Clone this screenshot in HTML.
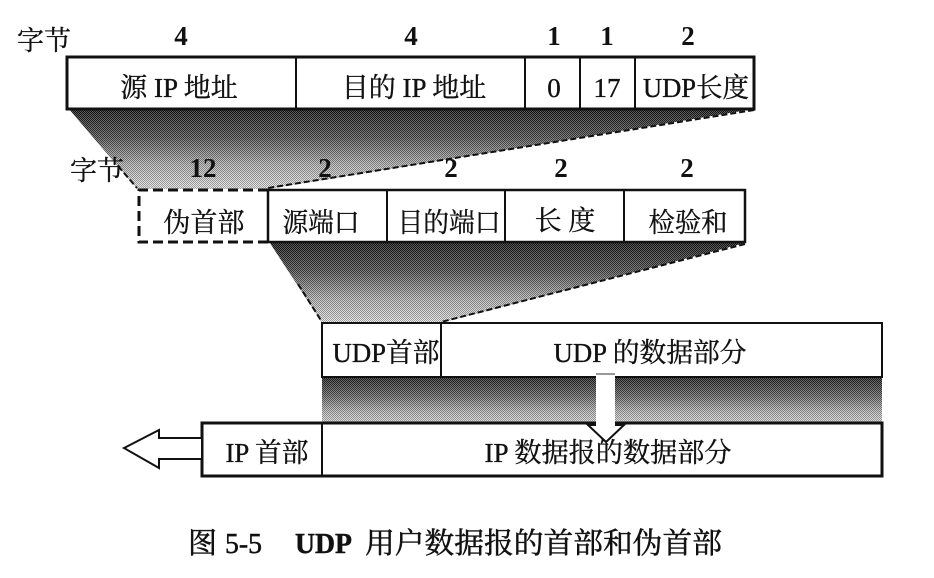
<!DOCTYPE html>
<html lang="zh">
<head>
<meta charset="utf-8">
<style>
html,body{margin:0;padding:0;background:#fff;}
svg{display:block;}
text{font-family:"Liberation Serif","Noto Serif CJK SC",serif;fill:#111;stroke:#111;stroke-width:.35px;}
.l{font-size:27px;text-anchor:middle;}
.n{font-size:27px;text-anchor:middle;font-weight:bold;stroke-width:0;}
.c{font-size:29px;stroke-width:.5px;}
</style>
</head>
<body>
<svg width="934" height="578" viewBox="0 0 934 578" xmlns="http://www.w3.org/2000/svg">
<defs>
<linearGradient id="g1" x1="0" y1="0" x2="0" y2="1">
<stop offset="0" stop-color="#141414"/><stop offset="0.35" stop-color="#4c4c4c"/><stop offset="0.7" stop-color="#b0b0b0"/><stop offset="1" stop-color="#e0e0e0"/>
</linearGradient>
<linearGradient id="g3" x1="0" y1="0" x2="0" y2="1">
<stop offset="0" stop-color="#1c1c1c"/><stop offset="0.4" stop-color="#606060"/><stop offset="0.75" stop-color="#b4b4b4"/><stop offset="1" stop-color="#d8d8d8"/>
</linearGradient>
<pattern id="dither" width="2" height="2" patternUnits="userSpaceOnUse">
<rect x="0" y="0" width="1" height="1" fill="#000" opacity=".28"/>
<rect x="1" y="1" width="1" height="1" fill="#000" opacity=".28"/>
<rect x="1" y="0" width="1" height="1" fill="#fff" opacity=".28"/>
<rect x="0" y="1" width="1" height="1" fill="#fff" opacity=".28"/>
</pattern>
</defs>
<rect width="934" height="578" fill="#fff"/>

<!-- gradients -->
<polygon points="69,109 754,109 268,189 137,189" fill="url(#g1)"/>
<polygon points="69,109 754,109 268,189 137,189" fill="url(#dither)"/>
<polygon points="270,243 745,243 441,323 322,323" fill="url(#g1)"/>
<polygon points="270,243 745,243 441,323 322,323" fill="url(#dither)"/>
<rect x="322" y="377" width="560" height="46" fill="url(#g3)"/>
<rect x="322" y="377" width="560" height="46" fill="url(#dither)"/>
<g fill="none" stroke="#111" stroke-width="2" stroke-dasharray="6 3">
<line x1="754" y1="110" x2="268" y2="188"/>
<line x1="745" y1="244" x2="441" y2="322"/>
<line x1="118" y1="166" x2="137" y2="188"/>
<line x1="298" y1="284" x2="322" y2="322"/>
</g>

<!-- top row -->
<text x="44" y="50" class="l">字节</text>
<text x="181" y="45" class="n">4</text>
<text x="411" y="45" class="n">4</text>
<text x="554" y="45" class="n">1</text>
<text x="607" y="45" class="n">1</text>
<text x="688" y="45" class="n">2</text>
<rect x="67" y="57" width="687" height="52" fill="#fff" stroke="#111" stroke-width="3"/>
<g stroke="#111" stroke-width="2">
<line x1="296" y1="57" x2="296" y2="109"/>
<line x1="525" y1="57" x2="525" y2="109"/>
<line x1="580" y1="57" x2="580" y2="109"/>
<line x1="635" y1="57" x2="635" y2="109"/>
</g>
<text x="179" y="97" class="l">源 IP 地址</text>
<text x="414" y="97" class="l">目的 IP 地址</text>
<text x="554" y="97" class="l">0</text>
<text x="607" y="97" class="l">17</text>
<text x="696" y="97" class="l" textLength="106" lengthAdjust="spacingAndGlyphs">UDP长度</text>

<!-- second row -->
<text x="97" y="180" class="l">字节</text>
<text x="203" y="177" class="n">12</text>
<text x="325" y="177" class="n">2</text>
<text x="451" y="177" class="n">2</text>
<text x="561" y="177" class="n">2</text>
<text x="687" y="177" class="n">2</text>
<rect x="138" y="189" width="130" height="54" fill="#fff"/>
<path d="M268 190 H139 V242 H268" fill="none" stroke="#111" stroke-width="3" stroke-dasharray="10 5"/>
<rect x="268" y="190" width="477" height="52" fill="#fff" stroke="#111" stroke-width="2.5"/>
<g stroke="#111" stroke-width="2">
<line x1="387" y1="190" x2="387" y2="242"/>
<line x1="505" y1="190" x2="505" y2="242"/>
<line x1="624" y1="190" x2="624" y2="242"/>
</g>
<text x="204" y="232" class="l">伪首部</text>
<text x="321" y="232" class="l" textLength="77" lengthAdjust="spacingAndGlyphs">源端口</text>
<text x="449" y="232" class="l" textLength="103" lengthAdjust="spacingAndGlyphs">目的端口</text>
<text x="565" y="230" class="l">长 度</text>
<text x="688" y="232" class="l" textLength="79" lengthAdjust="spacingAndGlyphs">检验和</text>

<!-- UDP row -->
<rect x="322" y="323" width="560" height="54" fill="#fff" stroke="#111" stroke-width="2"/>
<line x1="441" y1="323" x2="441" y2="377" stroke="#111" stroke-width="2"/>
<text x="386" y="362" class="l" textLength="107" lengthAdjust="spacingAndGlyphs">UDP首部</text>
<text x="650" y="362" class="l" textLength="193" lengthAdjust="spacingAndGlyphs">UDP 的数据部分</text>

<!-- IP row -->
<rect x="202" y="423" width="680" height="53" fill="#fff" stroke="#111" stroke-width="3"/>
<line x1="322" y1="423" x2="322" y2="476" stroke="#111" stroke-width="2"/>
<text x="267" y="462" class="l" textLength="83" lengthAdjust="spacingAndGlyphs">IP 首部</text>
<text x="608" y="462" class="l" textLength="247" lengthAdjust="spacingAndGlyphs">IP 数据报的数据部分</text>

<!-- down arrow -->
<rect x="596" y="374" width="19" height="52" fill="#fff"/>
<path d="M596 374 H615" fill="none" stroke="#333" stroke-width="1"/>
<path d="M596 425 H588 L606 442 L624 425 H615" fill="none" stroke="#111" stroke-width="2"/>

<!-- left arrow -->
<polygon points="202,438 159,438 159,430 124,448 159,468 159,459 202,459" fill="#fff" stroke="#111" stroke-width="2"/>

<!-- caption -->
<text x="188" y="553" class="c">图</text>
<text x="225" y="553" class="c" textLength="37" lengthAdjust="spacingAndGlyphs">5-5</text>
<text x="295" y="553" class="c" font-weight="bold" textLength="57" lengthAdjust="spacingAndGlyphs">UDP</text>
<text x="365" y="553" class="c" textLength="357" lengthAdjust="spacingAndGlyphs">用户数据报的首部和伪首部</text>
</svg>
</body>
</html>
